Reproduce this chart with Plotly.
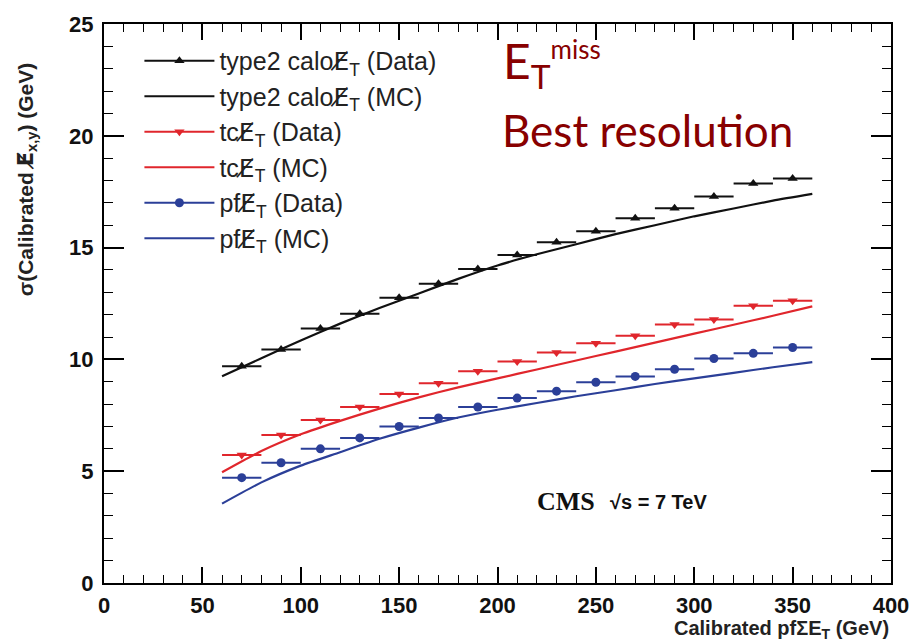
import plotly.graph_objects as go

# ---- data ----
x_data = [70, 90, 110, 130, 150, 170, 190, 210, 230, 250, 270, 290, 310, 330, 350]
x_halfwidth = [10] * 15
calo_data = [9.69, 10.44, 11.38, 12.04, 12.76, 13.38, 14.04, 14.67, 15.24, 15.73, 16.31, 16.76, 17.29, 17.87, 18.09]
tc_data = [5.73, 6.62, 7.29, 7.87, 8.45, 8.93, 9.47, 9.91, 10.31, 10.72, 11.06, 11.56, 11.78, 12.40, 12.62]
pf_data = [4.71, 5.38, 6.00, 6.49, 7.00, 7.38, 7.87, 8.27, 8.58, 8.98, 9.24, 9.56, 10.04, 10.27, 10.53]

x_mc = [60, 80, 100, 120, 140, 160, 180, 200, 220, 240, 260, 280, 300, 320, 340, 360]
calo_mc = [9.25, 10.05, 10.85, 11.6, 12.3, 12.95, 13.6, 14.2, 14.7, 15.15, 15.6, 16.0, 16.4, 16.75, 17.1, 17.4]
tc_mc = [4.95, 5.9, 6.65, 7.25, 7.8, 8.3, 8.75, 9.15, 9.55, 9.95, 10.35, 10.75, 11.15, 11.55, 11.95, 12.37]
pf_mc = [3.55, 4.5, 5.25, 5.85, 6.45, 6.95, 7.4, 7.75, 8.05, 8.35, 8.62, 8.9, 9.15, 9.4, 9.65, 9.88]

BLACK = "#111111"
RED = "#e0262c"
BLUE = "#2b3f98"
MET = "<span style=\"font-family:'DejaVu Sans'\">E\u0338</span>"

series = [
    ("type2 calo" + MET + "<sub>T</sub>", calo_data, calo_mc, BLACK, "triangle-up"),
    ("tc" + MET + "<sub>T</sub>", tc_data, tc_mc, RED, "triangle-down"),
    ("pf" + MET + "<sub>T</sub>", pf_data, pf_mc, BLUE, "circle"),
]

fig = go.Figure()
for name, yd, ym, col, sym in series:
    # legend entries (data style: line + marker)
    fig.add_trace(go.Scatter(
        x=[None], y=[None], mode="lines+markers", name=name + " (Data)",
        line=dict(color=col, width=2), marker=dict(symbol=sym, size=9, color=col),
        legendgroup=name + "d"))
    fig.add_trace(go.Scatter(
        x=x_data, y=yd, mode="markers", showlegend=False, legendgroup=name + "d",
        marker=dict(symbol=sym, size=9, color=col),
        error_x=dict(type="data", array=x_halfwidth, color=col, thickness=2, width=0)))
    fig.add_trace(go.Scatter(
        x=x_mc, y=ym, mode="lines", name=name + " (MC)",
        line=dict(color=col, width=2.2, shape="spline", smoothing=0.6)))

axis_common = dict(
    showline=True, linecolor="black", linewidth=2, mirror="allticks",
    ticks="inside", tickcolor="black", tickwidth=1.5,
    showgrid=False, zeroline=False,
    tickfont=dict(family="Liberation Sans", size=22, color="#111", weight="bold"),
)

fig.update_xaxes(range=[0, 400], dtick=50, ticklen=16, ticklabelstandoff=2,
                 minor=dict(ticks="inside", dtick=10, ticklen=8, tickcolor="black", tickwidth=1),
                 **axis_common)
fig.update_yaxes(range=[0, 25], dtick=5, ticklen=20, ticklabelstandoff=4,
                 minor=dict(ticks="inside", dtick=1, ticklen=9, tickcolor="black", tickwidth=1),
                 **axis_common)

fig.update_layout(
    width=924, height=641,
    margin=dict(l=104, r=33, t=20, b=58),
    paper_bgcolor="white", plot_bgcolor="white",
    legend=dict(
        x=0.045, y=0.975, xanchor="left", yanchor="top",
        bgcolor="rgba(0,0,0,0)", borderwidth=0,
        font=dict(family="Liberation Sans", size=25, color="#222"),
        itemwidth=70, tracegroupgap=0,
    ),
    showlegend=True,
)

ann = [
    dict(text="\u03c3(Calibrated " + MET + "<sub>x,y</sub>) (GeV)", xref="paper", yref="paper",
         x=-0.098, y=0.935, xanchor="center", yanchor="top", textangle=-90, showarrow=False,
         font=dict(family="Liberation Sans", size=21, color="#222", weight="bold")),
    dict(text="Calibrated pf\u03a3E<sub>T</sub> (GeV)", xref="paper", yref="paper",
         x=1.0, y=-0.058, xanchor="right", yanchor="top", showarrow=False,
         font=dict(family="Liberation Sans", size=20, color="#222", weight="bold")),
    dict(text="E<sub>T</sub><sup><span style='font-size:26px'>miss</span></sup>", xref="paper", yref="paper",
         x=0.505, y=0.99, xanchor="left", yanchor="top", showarrow=False,
         font=dict(family="Lato", size=48, color="#880000")),
    dict(text="Best resolution", xref="paper", yref="paper",
         x=0.503, y=0.86, xanchor="left", yanchor="top", showarrow=False,
         font=dict(family="Lato", size=44, color="#880000")),
    dict(text="<b>CMS</b>", xref="paper", yref="paper",
         x=0.548, y=0.145, xanchor="left", yanchor="middle", showarrow=False,
         font=dict(family="Liberation Serif", size=26, color="#111")),
    dict(text="<b>\u221as = 7 TeV</b>", xref="paper", yref="paper",
         x=0.641, y=0.145, xanchor="left", yanchor="middle", showarrow=False,
         font=dict(family="Liberation Sans", size=20, color="#111")),
]
fig.update_layout(annotations=ann)

fig.write_html("out.html")
